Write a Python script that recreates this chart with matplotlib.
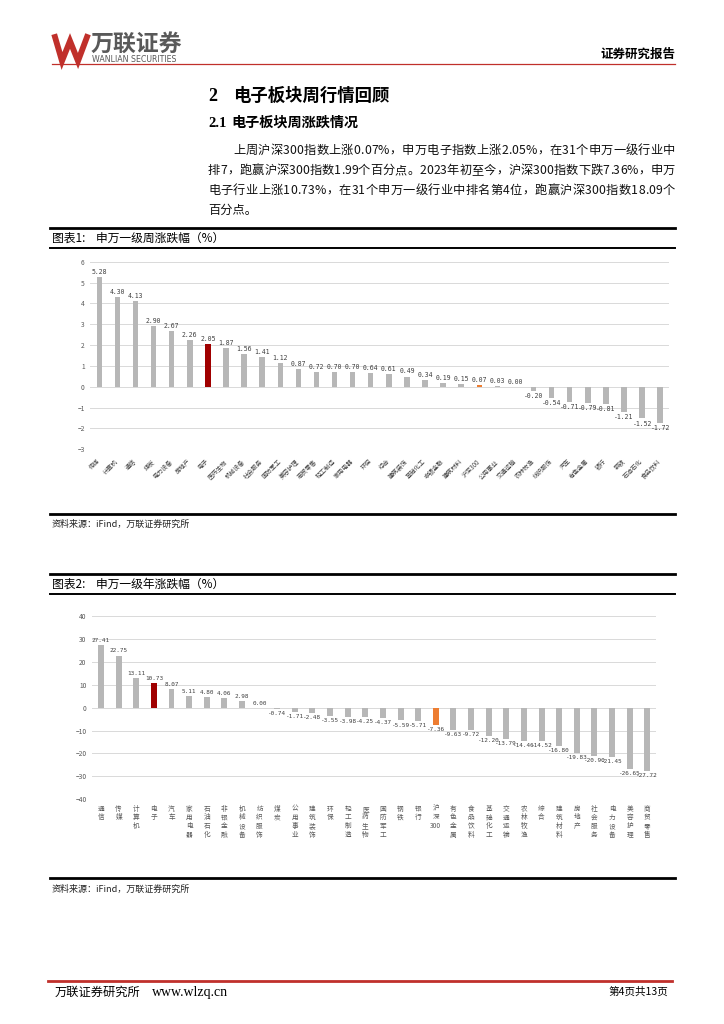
import numpy as np
import matplotlib
matplotlib.use('Agg')
import matplotlib.pyplot as plt
from matplotlib.lines import Line2D

plt.rcParams['font.family'] = ['Noto Sans CJK SC', 'DejaVu Sans']

# Weekly change by Shenwan level-1 industry (%)
week_names = ['传媒', '计算机', '通信', '煤炭', '电力设备', '房地产', '电子', '医药生物',
              '机械设备', '社会服务', '国防军工', '美容护理', '商贸零售', '轻工制造', '家用电器', '环保',
              '综合', '建筑装饰', '基础化工', '非银金融', '建筑材料', '沪深300', '公用事业', '交通运输',
              '农林牧渔', '纺织服饰', '汽车', '有色金属', '银行', '钢铁', '石油石化', '食品饮料']
week_vals = [5.28, 4.30, 4.13, 2.90, 2.67, 2.26, 2.05, 1.87,
             1.56, 1.41, 1.12, 0.87, 0.72, 0.70, 0.70, 0.64,
             0.61, 0.49, 0.34, 0.19, 0.15, 0.07, 0.03, 0.00,
             -0.20, -0.54, -0.71, -0.79, -0.81, -1.21, -1.52, -1.72]

# Year-to-date change (%)
year_names = ['通信', '传媒', '计算机', '电子', '汽车', '家用电器', '石油石化', '非银金融',
              '机械设备', '纺织服饰', '煤炭', '公用事业', '建筑装饰', '环保', '轻工制造', '医药生物',
              '国防军工', '钢铁', '银行', '沪深300', '有色金属', '食品饮料', '基础化工', '交通运输',
              '农林牧渔', '综合', '建筑材料', '房地产', '社会服务', '电力设备', '美容护理', '商贸零售']
year_vals = [27.41, 22.75, 13.11, 10.73, 8.07, 5.11, 4.80, 4.06,
             2.98, 0.00, -0.74, -1.71, -2.48, -3.55, -3.98, -4.25,
             -4.37, -5.59, -5.71, -7.36, -9.63, -9.72, -12.20, -13.79,
             -14.46, -14.52, -16.80, -19.83, -20.90, -21.45, -26.65, -27.72]

para_lines = ['上周沪深300指数上涨0.07%，申万电子指数上涨2.05%，在31个申万一级行业中',
              '排7，跑赢沪深300指数1.99个百分点。2023年初至今，沪深300指数下跌7.36%，申万',
              '电子行业上涨10.73%，在31个申万一级行业中排名第4位，跑赢沪深300指数18.09个',
              '百分点。']

W, H = 724, 1024
RED = '#C0302B'
DARK_RED = '#A00000'
ORANGE = '#ED7D31'
GRAY_BAR = '#B7B7B7'


def fx(x):
    return x / W


def fy(y):
    return 1 - y / H


def hline(x0, x1, y, lw=1.0, color='black'):
    fig.add_artist(Line2D([fx(x0), fx(x1)], [fy(y), fy(y)], lw=lw, color=color,
                          transform=fig.transFigure))


def justify(line, x0, x1, y, size):
    # spread characters so the line fills x0..x1 like the PDF text block
    renderer = fig.canvas.get_renderer()
    texts, widths = [], []
    for ch in line:
        t = fig.text(0, fy(y), ch, fontsize=size, va='baseline', color='#111111')
        texts.append(t)
        widths.append(t.get_window_extent(renderer).width)
    gap = (x1 - x0 - sum(widths)) / max(len(line) - 1, 1)
    pos = x0
    for t, w in zip(texts, widths):
        t.set_x(fx(pos))
        pos += w + gap


def bar_colors(names):
    cols = []
    for n in names:
        if n == '电子':
            cols.append(DARK_RED)
        elif n == '沪深300':
            cols.append(ORANGE)
        else:
            cols.append(GRAY_BAR)
    return cols


def value_labels(ax, vals, size):
    for i, v in enumerate(vals):
        if v >= 0:
            ax.annotate('%.2f' % v, (i, v), xytext=(0, 1.5), textcoords='offset points',
                        ha='center', va='bottom', fontsize=size, color='#404040',
                        family='DejaVu Sans Mono')
        else:
            ax.annotate('%.2f' % v, (i, v), xytext=(0, -1.5), textcoords='offset points',
                        ha='center', va='top', fontsize=size, color='#404040',
                        family='DejaVu Sans Mono')


def style_axes(ax):
    for s in ax.spines.values():
        s.set_visible(False)
    ax.grid(axis='y', color='#D9D9D9', lw=0.7)
    ax.set_axisbelow(True)
    ax.tick_params(axis='y', length=0, labelsize=4.8, labelcolor='#595959', pad=4)
    ax.tick_params(axis='x', length=0)


fig = plt.figure(figsize=(7.24, 10.24), dpi=100)

########################################################################################################################
### Page header

fig.add_artist(Line2D([fx(55), fx(62), fx(70), fx(78), fx(87)],
                      [fy(37), fy(61), fy(41), fy(61), fy(37)],
                      lw=4.2, color=RED, solid_joinstyle='miter', transform=fig.transFigure))
fig.text(fx(91), fy(51), '万联证券', fontsize=16.5, weight='bold', color='#595959', va='baseline')
fig.text(fx(92), fy(62.5), 'WANLIAN SECURITIES', fontsize=5.7, color='#595959', va='baseline',
         family='DejaVu Sans')
fig.text(fx(675), fy(58), '证券研究报告', fontsize=9, weight='bold', ha='right', va='baseline')
hline(52, 675, 64, lw=0.9, color=RED)

fig.text(fx(208), fy(101), '2', fontsize=13, weight='bold', va='baseline', family='Liberation Serif')
fig.text(fx(233), fy(101), '电子板块周行情回顾', fontsize=12.5, weight='bold', va='baseline')
fig.text(fx(208), fy(127), '2.1', fontsize=10.5, weight='bold', va='baseline', family='Liberation Serif')
fig.text(fx(231), fy(127), '电子板块周涨跌情况', fontsize=10.2, weight='bold', va='baseline')

justify(para_lines[0], 233, 675, 154, 8.8)
justify(para_lines[1], 208, 675, 174, 8.8)
justify(para_lines[2], 208, 675, 194, 8.8)
fig.text(fx(208), fy(214), para_lines[3], fontsize=8.8, va='baseline', color='#111111')

########################################################################################################################
### Chart 1: weekly change

hline(50, 675, 228, lw=2.0)
fig.text(fx(52), fy(242), '图表1:    申万一级周涨跌幅（%）', fontsize=8.5, va='baseline')
hline(50, 675, 248, lw=1.4)

x = np.arange(len(week_names))
ax1 = fig.add_axes([fx(90.3), fy(449.3), (669.2 - 90.3) / W, (449.3 - 261.7) / H])
ax1.bar(x, week_vals, width=0.3, color=bar_colors(week_names), zorder=2)
ax1.set_xlim(-0.5, len(week_names) - 0.5)
ax1.set_ylim(-3, 6)
ax1.set_yticks(range(-3, 7))
style_axes(ax1)
ax1.set_xticks(x)
ax1.set_xticklabels(week_names, rotation=45, ha='right', va='center', rotation_mode='anchor',
                    fontsize=4.4, color='#404040')
ax1.tick_params(axis='x', pad=8)
value_labels(ax1, week_vals, 4.7)

hline(50, 675, 514, lw=2.0)
fig.text(fx(52), fy(527), '资料来源：iFind，万联证券研究所', fontsize=6.5, style='italic', va='baseline',
         color='#222222')

########################################################################################################################
### Chart 2: year-to-date change

hline(50, 675, 574, lw=2.0)
fig.text(fx(52), fy(588), '图表2:    申万一级年涨跌幅（%）', fontsize=8.5, va='baseline')
hline(50, 675, 594, lw=1.4)

x2 = np.arange(len(year_names))
ax2 = fig.add_axes([fx(92.2), fy(799.3), (656.1 - 92.2) / W, (799.3 - 616) / H])
ax2.bar(x2, year_vals, width=0.34, color=bar_colors(year_names), zorder=2)
ax2.set_xlim(-0.5, len(year_names) - 0.5)
ax2.set_ylim(-40, 40)
ax2.set_yticks(range(-40, 41, 10))
style_axes(ax2)
ax2.set_xticks(x2)
ax2.set_xticklabels(['\n'.join(n) if n != '沪深300' else '沪\n深\n300' for n in year_names],
                    fontsize=4.8, color='#595959', linespacing=1.1, va='top')
ax2.tick_params(axis='x', pad=4)
value_labels(ax2, year_vals, 4.3)

hline(50, 675, 878, lw=2.0)
fig.text(fx(52), fy(892), '资料来源：iFind，万联证券研究所', fontsize=6.5, style='italic', va='baseline',
         color='#222222')

########################################################################################################################
### Footer

hline(48, 672, 981, lw=2.0, color=RED)
fig.text(fx(55), fy(996), '万联证券研究所', fontsize=8.8, va='baseline')
fig.text(fx(152), fy(996), 'www.wlzq.cn', fontsize=10, va='baseline', family='Liberation Serif')
fig.text(fx(668), fy(995), '第4页共13页', fontsize=7.6, ha='right', va='baseline')

fig.savefig('out.png', dpi=100)
